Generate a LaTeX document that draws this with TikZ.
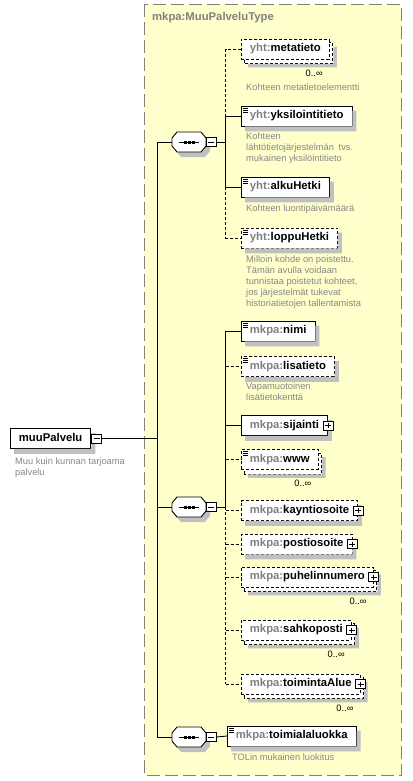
\documentclass[tikz,border=0pt]{standalone}
\usepackage{fontspec}
\setmainfont{Liberation Sans}
\pgfdeclarelayer{back}
\pgfdeclarelayer{shade}
\pgfsetlayers{back,shade,main}
\definecolor{typefill}{RGB}{255,255,204}
\definecolor{typeline}{RGB}{128,128,128}
\definecolor{pfxgray}{RGB}{128,128,128}
\definecolor{docgray}{RGB}{135,135,135}
\definecolor{boxshadow}{RGB}{192,192,192}
\newcommand{\pfx}[1]{\textcolor{pfxgray}{#1}}
\tikzset{
  conn/.style={line width=.9pt},
  opt/.style={dash pattern=on 3pt off 2pt},
  elem/.style={draw,fill=white,line width=.9pt,anchor=west,minimum height=20pt,
    inner xsep=8.5pt,inner ysep=0pt,text height=8.2pt,text depth=2.3pt,
    font=\fontsize{11.3}{13}\selectfont\bfseries},
  simple/.style={path picture={\foreach \k in {2,4,6}
    \draw[solid,line width=.7pt] ([xshift=2pt,yshift=-\k pt]path picture bounding box.north west) -- ++(5pt,0);}},
  pmbox/.style={draw,fill=white,line width=.8pt,minimum width=10pt,minimum height=9pt,inner sep=0pt},
  minusbox/.style={pmbox,anchor=west,path picture={
    \draw[line width=.8pt] ([xshift=2pt]path picture bounding box.west) -- ([xshift=-2pt]path picture bounding box.east);}},
  plusbox/.style={pmbox,path picture={
    \draw[line width=.8pt] ([xshift=2pt]path picture bounding box.west) -- ([xshift=-2pt]path picture bounding box.east);
    \draw[line width=.8pt] ([yshift=-2pt]path picture bounding box.north) -- ([yshift=2pt]path picture bounding box.south);}},
  seq/.style={minimum width=34pt,minimum height=20pt,inner sep=0pt,outer sep=0pt},
  doc/.style={anchor=north west,inner sep=0pt,align=left,text=docgray,font=\fontsize{9.3}{10.9}\selectfont},
  occ/.style={anchor=north east,inner sep=0pt,font=\fontsize{9.3}{11}\selectfont},
  typename/.style={anchor=base west,inner sep=0pt,text=typeline,font=\fontsize{11.3}{13}\selectfont\bfseries}
}
\begin{document}
\begin{tikzpicture}[x=1pt,y=-1pt]
  \useasboundingbox (0,0) rectangle (412,781);
  %% complex type
  \begin{pgfonlayer}{back}
    \draw[typeline,fill=typefill,line width=.9pt,dash pattern=on 13pt off 5pt] (144,4) rectangle (401,775);
  \end{pgfonlayer}
  \node[typename] (type) at (152,21) {mkpa:MuuPalveluType};

  %% root element
  \node[elem] (muuPalvelu) at (10,438.5) {muuPalvelu};
  \node[doc] (muuPalvelu-d) at (15,458) {Muu kuin kunnan tarjoama\\palvelu};

  %% sequences
  \node[seq] (s1) at (189,142) {};
  \node[seq] (s2) at (189,507) {};
  \node[seq] (s3) at (189,737) {};
  \foreach \s in {s1,s2,s3} {
    \fill[boxshadow] ([xshift=4pt,yshift=-5pt]\s.center) ++(-17pt,-4pt) -- ++(0,8pt) -- ++(5pt,6pt) -- ++(24pt,0)
      -- ++(5pt,-6pt) -- ++(0,-8pt) -- ++(-5pt,-6pt) -- ++(-24pt,0) -- cycle;
    \draw[fill=white,line width=.9pt] (\s.center) ++(-17pt,-4pt) -- ++(0,8pt) -- ++(5pt,6pt) -- ++(24pt,0)
      -- ++(5pt,-6pt) -- ++(0,-8pt) -- ++(-5pt,-6pt) -- ++(-24pt,0) -- cycle;
    \node[minusbox] (\s-m) at (\s.east) {};
    \draw[line width=.9pt] ([xshift=-10pt]\s.center) -- ([xshift=10pt]\s.center);
    \foreach \d in {-4,0,4} \fill ([xshift=\d pt]\s.center) +(-1.5pt,-1.5pt) rectangle +(1.5pt,1.5pt);
  }

  %% first sequence
  \node[elem,opt] (metatieto) at (241,49) {\pfx{yht:}metatieto};
  \node[occ] (metatieto-o) at ([xshift=-7pt,yshift=-10pt]metatieto.south east) {0..∞};
  \node[doc] (metatieto-d) at (246,84) {Kohteen metatietoelementti};
  \node[elem,simple] (yksilointitieto) at (241,116) {\pfx{yht:}yksilointitieto};
  \node[doc] (yksilointitieto-d) at (246,133) {Kohteen\\lähtötietojärjestelmän\enspace tvs.\\mukainen yksilöintitieto};
  \node[elem,simple] (alkuHetki) at (241,187) {\pfx{yht:}alkuHetki};
  \node[doc] (alkuHetki-d) at (246,205) {Kohteen luontipäivämäärä};
  \node[elem,simple,opt] (loppuHetki) at (241,238) {\pfx{yht:}loppuHetki};
  \node[doc] (loppuHetki-d) at (246,256) {Milloin kohde on poistettu.\\Tämän avulla voidaan\\tunnistaa poistetut kohteet,\\jos järjestelmät tukevat\\historiatietojen tallentamista};

  %% second sequence
  \node[elem,simple] (nimi) at (241,331) {\pfx{mkpa:}nimi};
  \node[elem,simple,opt] (lisatieto) at (241,366.5) {\pfx{mkpa:}lisatieto};
  \node[doc] (lisatieto-d) at (246,383) {Vapamuotoinen\\lisätietokenttä};
  \node[elem] (sijainti) at (241,425.5) {\pfx{mkpa:}sijainti\hspace{5pt}};
  \node[elem,simple,opt] (www) at (241,459.5) {\pfx{mkpa:}www};
  \node[occ] (www-o) at ([xshift=-7pt,yshift=-10pt]www.south east) {0..∞};
  \node[elem,opt] (kayntiosoite) at (241,510.5) {\pfx{mkpa:}kayntiosoite\hspace{5pt}};
  \node[elem,opt] (postiosoite) at (241,544) {\pfx{mkpa:}postiosoite\hspace{5pt}};
  \node[elem,opt] (puhelinnumero) at (241,577) {\pfx{mkpa:}puhelinnumero\hspace{5pt}};
  \node[occ] (puhelinnumero-o) at ([xshift=-7pt,yshift=-10pt]puhelinnumero.south east) {0..∞};
  \node[elem,opt] (sahkoposti) at (241,630) {\pfx{mkpa:}sahkoposti\hspace{5pt}};
  \node[occ] (sahkoposti-o) at ([xshift=-7pt,yshift=-10pt]sahkoposti.south east) {0..∞};
  \node[elem,opt] (toimintaAlue) at (241,684) {\pfx{mkpa:}toimintaAlue\hspace{5pt}};
  \node[occ] (toimintaAlue-o) at ([xshift=-7pt,yshift=-10pt]toimintaAlue.south east) {0..∞};

  %% third sequence
  \node[elem,simple] (toimialaluokka) at (227,736) {\pfx{mkpa:}toimialaluokka};
  \node[doc] (toimialaluokka-d) at (232,754) {TOLin mukainen luokitus};

  %% shadows and repeated boxes
  \foreach \n in {muuPalvelu,yksilointitieto,alkuHetki,loppuHetki,nimi,lisatieto,sijainti,kayntiosoite,postiosoite,toimialaluokka}
    \fill[boxshadow] ([yshift=-5pt]\n.north east) -- ([xshift=4pt,yshift=-5pt]\n.north east)
      -- ([xshift=4pt,yshift=-5pt]\n.south east) -- ([xshift=4pt,yshift=-5pt]\n.south west)
      -- ([xshift=4pt]\n.south west) -- (\n.south east) -- cycle;
  \foreach \n in {metatieto,www,puhelinnumero,sahkoposti,toimintaAlue} {
    \begin{pgfonlayer}{shade}
      \draw[fill=white,line width=.9pt,opt] ([xshift=3pt,yshift=-4pt]\n.south west) rectangle ([xshift=3pt,yshift=-4pt]\n.north east);
    \end{pgfonlayer}
    \fill[boxshadow] ([xshift=3.5pt,yshift=-8pt]\n.north east) -- ([xshift=7pt,yshift=-8pt]\n.north east)
      -- ([xshift=7pt,yshift=-8pt]\n.south east) -- ([xshift=7pt,yshift=-8pt]\n.south west)
      -- ([xshift=7pt,yshift=-4.5pt]\n.south west) -- ([xshift=3.5pt,yshift=-4.5pt]\n.south east) -- cycle;
  }
  \node[minusbox] (muuPalvelu-m) at (muuPalvelu.east) {};
  \foreach \n in {sijainti,kayntiosoite,postiosoite,puhelinnumero,sahkoposti,toimintaAlue}
    \node[plusbox] (\n-p) at (\n.east) {};

  %% connectors
  \coordinate (trunk) at (157,438.5);
  \draw[conn] (muuPalvelu-m.east) -- (trunk);
  \draw[conn] (s1.west) -- (s1.west -| trunk) -- (s3.west -| trunk) -- (s3.west);
  \draw[conn] (s2.west) -- (s2.west -| trunk);

  \coordinate (b1) at ([xshift=9pt]s1-m.east);
  \draw[conn] (s1-m.east) -- (b1);
  \draw[conn,opt] (metatieto.west) -- (metatieto.west -| b1) -- (yksilointitieto.west -| b1);
  \draw[conn] (yksilointitieto.west) -- (yksilointitieto.west -| b1) -- (alkuHetki.west -| b1) -- (alkuHetki.west);
  \draw[conn,opt] (alkuHetki.west -| b1) -- (loppuHetki.west -| b1) -- (loppuHetki.west);

  \coordinate (b2) at ([xshift=9pt]s2-m.east);
  \draw[conn] (s2-m.east) -- (b2);
  \draw[conn] (nimi.west) -- (nimi.west -| b2) -- (b2);
  \draw[conn] (sijainti.west) -- (sijainti.west -| b2);
  \draw[conn,opt] (b2) -- (toimintaAlue.west -| b2);
  \foreach \n in {lisatieto,www,kayntiosoite,postiosoite,puhelinnumero,sahkoposti,toimintaAlue}
    \draw[conn,opt] (\n.west -| b2) -- (\n.west);

  \draw[conn] (s3-m.east) -- (toimialaluokka.west);
\end{tikzpicture}
\end{document}
